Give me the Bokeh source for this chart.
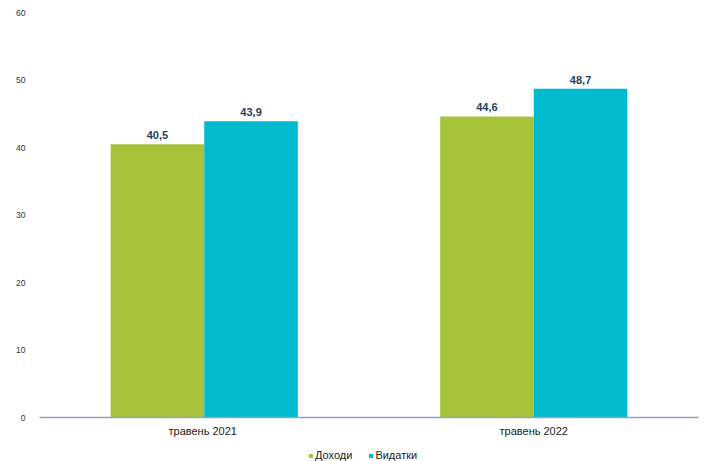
from bokeh.plotting import figure
from bokeh.layouts import column
from bokeh.models import ColumnDataSource, FactorRange, Range1d, Legend, LegendItem, FixedTicker
from bokeh.transform import dodge
from bokeh.embed import file_html
from bokeh.resources import INLINE
from bokeh.core.properties import value

categories = ["травень  2021", "травень 2022"]
income = [40.5, 44.6]
expenses = [43.9, 48.7]
series_names = ["Доходи", "Видатки"]
y_ticks = [0, 10, 20, 30, 40, 50, 60]

GREEN = "#A6C33A"
CYAN = "#00BACE"
LABEL = "#1F3F66"
FONT = "Liberation Sans"

def fmt(v):
    return f"{v:.1f}".replace(".", ",")

src = ColumnDataSource(dict(
    cat=categories,
    inc=income,
    exp=expenses,
    inc_lbl=[fmt(v) for v in income],
    exp_lbl=[fmt(v) for v in expenses],
))

p = figure(width=699, height=439, x_range=FactorRange(*categories, range_padding=0),
           y_range=Range1d(0, 60), output_backend="svg", toolbar_location=None,
           min_border_left=39, min_border_right=1, min_border_top=12, min_border_bottom=22)
p.outline_line_color = None
p.grid.visible = False

bw = 0.284
off = 0.142
p.vbar(x=dodge("cat", -off, range=p.x_range), top="inc", width=bw, source=src,
       fill_color=GREEN, line_color=None)
p.vbar(x=dodge("cat", off, range=p.x_range), top="exp", width=bw, source=src,
       fill_color=CYAN, line_color=None)

p.text(x=dodge("cat", -off, range=p.x_range), y="inc", text="inc_lbl", source=src,
       text_align="center", text_baseline="bottom", y_offset=-5,
       text_font=value(FONT), text_font_size="11px", text_font_style="bold", text_color=LABEL)
p.text(x=dodge("cat", off, range=p.x_range), y="exp", text="exp_lbl", source=src,
       text_align="center", text_baseline="bottom", y_offset=-5,
       text_font=value(FONT), text_font_size="11px", text_font_style="bold", text_color=LABEL)

p.yaxis.ticker = FixedTicker(ticks=y_ticks)
p.yaxis.axis_line_color = None
p.yaxis.major_tick_line_color = None
p.yaxis.minor_tick_line_color = None
p.yaxis.major_label_text_font = FONT
p.yaxis.major_label_text_font_size = "8.5px"
p.yaxis.major_label_text_color = "#333333"
p.yaxis.major_label_standoff = 8

p.xaxis.axis_line_color = "#8FA5BA"
p.xaxis.axis_line_width = 1.5
p.xaxis.major_tick_line_color = None
p.xaxis.minor_tick_line_color = None
p.xaxis.major_label_text_font = FONT
p.xaxis.major_label_text_font_size = "11px"
p.xaxis.major_label_text_color = "#222222"
p.xaxis.major_label_standoff = 1

# legend strip below the chart
lf = figure(width=699, height=22, output_backend="svg", toolbar_location=None,
            x_axis_type=None, y_axis_type=None, min_border=0)
lf.outline_line_color = None
lf.grid.visible = False
lr1 = lf.vbar(x=[0], top=[0], bottom=[0], width=1, fill_color=GREEN, line_color=None)
lr2 = lf.vbar(x=[0], top=[0], bottom=[0], width=1, fill_color=CYAN, line_color=None)
legend = Legend(items=[LegendItem(label=series_names[0], renderers=[lr1]),
                       LegendItem(label=series_names[1], renderers=[lr2])],
                orientation="horizontal", location=(269, 0),
                label_text_font=FONT, label_text_font_size="11px", label_text_color="#222222",
                glyph_width=5, glyph_height=5, label_standoff=2, spacing=16,
                padding=0, margin=0, border_line_color=None, background_fill_alpha=0,
                label_height=11)
lf.add_layout(legend, "center")

layout = column(p, lf, spacing=0)
open("out.html", "w").write(file_html(layout, INLINE))
